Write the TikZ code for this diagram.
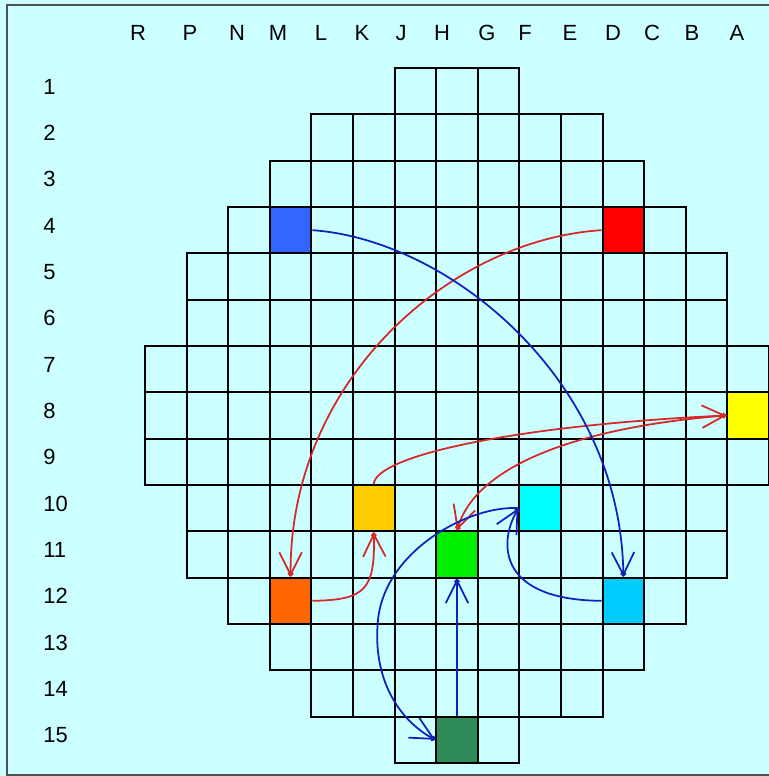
\documentclass[tikz,border=0pt]{standalone}
\usepackage{fontspec}
\setmainfont{Liberation Sans}
\usepackage{tikz}
\usetikzlibrary{arrows.meta}
\usepackage{xcolor}
\definecolor{bgcyan}{RGB}{204,255,255}
\definecolor{framegray}{RGB}{80,80,80}
\definecolor{arrowred}{RGB}{214,40,40}
\definecolor{arrowblue}{RGB}{17,34,187}
\definecolor{cellblue}{RGB}{51,102,255}
\definecolor{cellred}{RGB}{255,0,0}
\definecolor{cellyellow}{RGB}{255,255,0}
\definecolor{cellgold}{RGB}{255,204,0}
\definecolor{cellcyan}{RGB}{0,255,255}
\definecolor{cellgreen}{RGB}{0,238,0}
\definecolor{cellorange}{RGB}{255,102,0}
\definecolor{cellsky}{RGB}{0,204,255}
\definecolor{cellsea}{RGB}{46,139,87}

\begin{document}
\begin{tikzpicture}[x=0.832cm,y=-0.92666cm,
  cell/.style={draw,line width=1.1pt,minimum width=0.832cm,minimum height=0.92666cm,inner sep=0pt},
  lbl/.style={font=\fontsize{12.5}{14}\selectfont,inner sep=0pt},
  move/.style={line width=1pt,-{Straight Barb[length=4.5mm,width=4.5mm,sep=-1.1mm]Circle[length=1.1mm]}},
  redmove/.style={move,draw=arrowred},
  bluemove/.style={move,draw=arrowblue}]
\useasboundingbox[fill=bgcyan] (-3.4856,-1.4677) rectangle (15,15.281);
\draw[framegray,line width=1.1pt] (15,-1.360) -- (-3.317,-1.360) -- (-3.317,15.260) -- (15,15.260);
% board
\foreach \r/\a/\b in {1/7/9,2/5/11,3/4/12,4/3/13,5/2/14,6/2/14,7/1/15,8/1/15,9/1/15,10/2/14,11/2/14,12/3/13,13/4/12,14/5/11,15/7/9}
  \foreach \c in {\a,...,\b}
    \draw[line width=1.1pt] (\c-1,\r-1) rectangle (\c,\r);
% labels
\foreach \x/\t in {-0.168/R,1.082/P,2.212/N,3.197/M,4.231/L,5.216/K,6.154/J,7.139/H,8.221/G,9.135/F,10.216/E,11.25/D,12.188/C,13.149/B,14.231/A}
  \node[lbl] (col\t) at (\x,-0.755) {\t};
\foreach \r in {1,...,15}
  \node[lbl,anchor=west] (row\r) at (-2.452,\r-0.6) {\r};
% marked squares
\node[cell,fill=cellblue] (m4) at (3.5,3.5) {};
\node[cell,fill=cellred] (d4) at (11.5,3.5) {};
\node[cell,fill=cellyellow] (a8) at (14.5,7.5) {};
\node[cell,fill=cellgold] (k10) at (5.5,9.5) {};
\node[cell,fill=cellcyan] (f10) at (9.5,9.5) {};
\node[cell,fill=cellgreen] (h11) at (7.5,10.5) {};
\node[cell,fill=cellorange] (m12) at (3.5,11.5) {};
\node[cell,fill=cellsky] (d12) at (11.5,11.5) {};
\node[cell,fill=cellsea] (h15) at (7.5,14.5) {};
% red moves
\draw[redmove] (d4.west) .. controls (7.33,3.71) and (3.49,6.73) .. (m12.north);
\draw[redmove] (m12.east) .. controls (5.288,11.483) and (5.529,11.267) .. (k10.south);
\draw[redmove] (k10.north) .. controls (5.553,8.353) and (9.014,7.706) .. (a8.west);
\draw[redmove] (a8.west) .. controls (10.938,7.706) and (8.053,8.418) .. (h11.north);
% blue moves
\draw[bluemove] (m4.east) .. controls (7.332,3.712) and (11.418,6.734) .. (d12.north);
\draw[bluemove] (d12.west) .. controls (8.534,11.483) and (8.486,10.296) .. (f10.west);
\draw[bluemove] (f10.west) .. controls (7.813,9.432) and (5.769,10.403) .. (5.601,11.914)
  .. controls (5.457,13.210) and (6.130,14.073) .. (h15.west);
\draw[bluemove] (h15.north) -- (h11.south);
\end{tikzpicture}
\end{document}
